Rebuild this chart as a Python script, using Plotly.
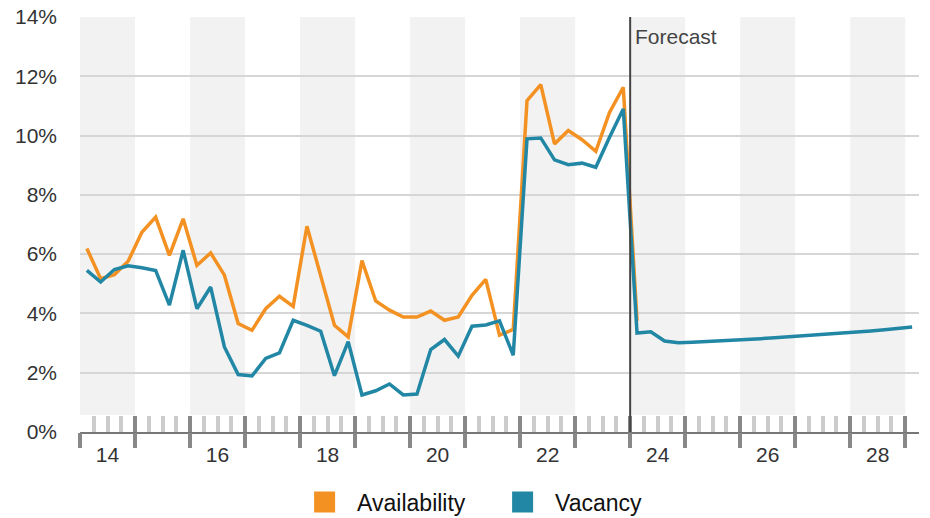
import plotly.graph_objects as go

# quarterly readings, 2014 Q1 onward (percent)
availability = [6.19, 5.17, 5.31, 5.76, 6.74, 7.25, 5.96, 7.19, 5.62, 6.04,
                5.29, 3.66, 3.43, 4.16, 4.58, 4.24, 6.94, 5.29, 3.60, 3.21,
                5.78, 4.42, 4.11, 3.88, 3.88, 4.08, 3.77, 3.88, 4.61, 5.15,
                3.27, 3.46, 11.18, 11.72, 9.72, 10.17, 9.86, 9.47, 10.78, 11.63,
                3.75]
vacancy = [5.45, 5.06, 5.48, 5.61, 5.54, 5.45, 4.28, 6.13, 4.16, 4.89,
           2.87, 1.94, 1.89, 2.48, 2.67, 3.77, 3.60, 3.40, 1.90, 3.05,
           1.25, 1.39, 1.62, 1.25, 1.28, 2.78, 3.12, 2.56, 3.57, 3.61,
           3.75, 2.59, 9.89, 9.92, 9.18, 9.02, 9.07, 8.93, 9.94, 10.90,
           3.34, 3.38, 3.07, 3.01, 3.03, 3.05, 3.07, 3.09, 3.12, 3.15,
           3.18, 3.21, 3.24, 3.27, 3.30, 3.33, 3.37, 3.41, 3.45, 3.49,
           3.54]
first_year = 2014
forecast_start = 24
band_years = [14, 16, 18, 20, 22, 24, 26, 28]
label_years = ['14', '16', '18', '20', '22', '24', '26', '28']
year_edges = list(range(14, 30))
y_ticks = [0, 2, 4, 6, 8, 10, 12, 14]

ORANGE = '#F39223'
BLUE = '#2287A5'
TXT = '#333333'
FONT = 'Liberation Sans, Arial, sans-serif'


def quarter_pos(i):
    # i-th quarter from first_year Q1, placed at the middle of the quarter
    y, q = divmod(i, 4)
    return (first_year - 2000) + y + (q + 0.5) / 4


x_av = [quarter_pos(i) for i in range(len(availability))]
x_vac = [quarter_pos(i) for i in range(len(vacancy))]
minor_vals = [y + f for y in range(14, 30) for f in (0.25, 0.5, 0.75)]

fig = go.Figure()
fig.add_trace(go.Scatter(x=x_av, y=availability, mode='lines', showlegend=False,
                         line=dict(color=ORANGE, width=3.5)))
fig.add_trace(go.Scatter(x=x_vac, y=vacancy, mode='lines', showlegend=False,
                         line=dict(color=BLUE, width=3.5)))
# legend entries (square swatches)
for name, c in [('Availability', ORANGE), ('Vacancy', BLUE)]:
    fig.add_trace(go.Scatter(x=[None], y=[None], mode='markers', name=name,
                             marker=dict(symbol='square', size=16, color=c,
                                         line=dict(color=c, width=5))))

# invisible traces so the tick overlay axes get drawn
fig.add_trace(go.Scatter(x=[None], y=[None], xaxis='x2', showlegend=False, hoverinfo='skip'))
fig.add_trace(go.Scatter(x=[None], y=[None], xaxis='x3', showlegend=False, hoverinfo='skip'))

shapes = []
for yr in band_years:
    shapes.append(dict(type='rect', xref='x', yref='y domain', x0=yr, x1=yr + 1,
                       y0=0.041, y1=1, fillcolor='#F2F2F2', line_width=0, layer='below'))
shapes.append(dict(type='line', xref='x', yref='y domain', x0=forecast_start, x1=forecast_start,
                   y0=0.0, y1=1, line=dict(color='#444444', width=2)))

xr = [14, 29.25]
fig.update_layout(
    width=930, height=518,
    margin=dict(l=80, r=11, t=17, b=86),
    paper_bgcolor='white', plot_bgcolor='white',
    font=dict(family=FONT, color=TXT, size=21),
    shapes=shapes,
    annotations=[dict(x=forecast_start, y=1, xref='x', yref='y domain', text='Forecast',
                      showarrow=False, xanchor='left', yanchor='top', xshift=3, yshift=-6,
                      font=dict(size=21, color='#444444'))],
    xaxis=dict(range=xr, tickmode='array', automargin=False,
               tickvals=[y + 0.5 for y in band_years], ticktext=label_years,
               ticks='', showgrid=False, zeroline=False,
               showline=True, linecolor='#777777', linewidth=2,
               ticklabelstandoff=3, tickfont=dict(size=21, color=TXT)),
    xaxis2=dict(range=xr, overlaying='x', anchor='y', side='bottom', automargin=False,
                tickmode='array', tickvals=year_edges, ticks='outside', ticklen=15,
                tickwidth=4, tickcolor='#888888', showticklabels=False,
                showgrid=False, zeroline=False, showline=False),
    xaxis3=dict(range=xr, overlaying='x', anchor='y', side='bottom', automargin=False,
                tickmode='array', tickvals=year_edges, ticks='inside', ticklen=16,
                tickwidth=4, tickcolor='#888888', showticklabels=False,
                showgrid=False, zeroline=False, showline=False,
                minor=dict(tickmode='array', tickvals=minor_vals, ticks='inside',
                           ticklen=16, tickwidth=4, tickcolor='#CCCCCC', showgrid=False)),
    yaxis=dict(range=[0, 14], tickmode='array', tickvals=y_ticks, automargin=False,
               ticktext=[f'{v}%' for v in y_ticks], ticklabeloverflow='allow',
               showgrid=True, gridcolor='#D6D6D6', gridwidth=2,
               zeroline=False, showline=False, ticks='', ticklabelstandoff=22,
               tickfont=dict(size=21, color=TXT)),
    legend=dict(orientation='h', xref='container', yref='container',
                x=0.527, xanchor='center', y=0.0309, yanchor='middle',
                font=dict(size=23, color='#111111'), entrywidth=128, itemwidth=55,
                bgcolor='rgba(0,0,0,0)'),
)

# drop the default page margin so the 930x518 figure fills the window
fig.write_html('out.html', config={'displayModeBar': False},
               post_script="document.body.style.margin='0';")
